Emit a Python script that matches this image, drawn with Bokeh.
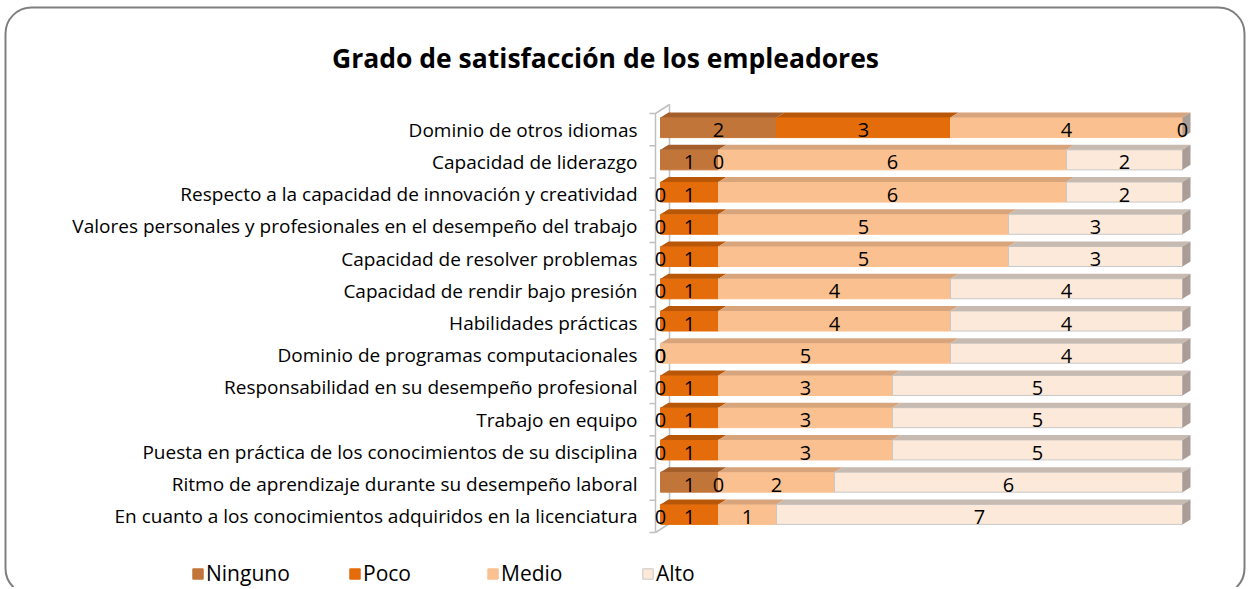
from bokeh.plotting import figure
from bokeh.models import Range1d, BoxAnnotation, Legend, LegendItem, ColumnDataSource
from bokeh.core.properties import value
from bokeh.embed import file_html
from bokeh.resources import INLINE

# ---------------- data ----------------
categories = [
    "Dominio de otros idiomas",
    "Capacidad de liderazgo",
    "Respecto a la capacidad de innovación y creatividad",
    "Valores personales y profesionales en el desempeño del trabajo",
    "Capacidad de resolver problemas",
    "Capacidad de rendir bajo presión",
    "Habilidades prácticas",
    "Dominio de programas computacionales",
    "Responsabilidad en su desempeño profesional",
    "Trabajo en equipo",
    "Puesta en práctica de los conocimientos de su disciplina",
    "Ritmo de aprendizaje durante su desempeño laboral",
    "En cuanto a los conocimientos adquiridos en la licenciatura",
]
ninguno = [2, 1, 0, 0, 0, 0, 0, 0, 0, 0, 0, 1, 0]
poco    = [3, 0, 1, 1, 1, 1, 1, 0, 1, 1, 1, 0, 1]
medio   = [4, 6, 6, 5, 5, 4, 4, 5, 3, 3, 3, 2, 1]
alto    = [0, 2, 2, 3, 3, 4, 4, 4, 5, 5, 5, 6, 7]
series_names = ["Ninguno", "Poco", "Medio", "Alto"]
title_text = "Grado de satisfacción de los empleadores"

# ---------------- style ----------------
face_colors = ["#C27539", "#E46C0A", "#FAC090", "#FDE9D9"]
top_colors = ["#A35E2C", "#B95708", "#D8A47B", "#C6BAB1"]
edge_colors = ["#C27539", "#E46C0A", "#FAC090", "#C8C8C8"]
side_color = "#A99D95"
wall_color = "#BFBFBF"
FONT = "Open Sans"

W, H = 1248, 587
XPX = 58.0                 # pixels per score unit
X0 = 660.0                 # pixel where score 0 lies
YPX = 419.0 / 13.0         # pixels per row
Y0 = 113.0                 # pixel of the top of the first row slot

def xd(px):
    return (px - X0) / XPX

def yd(py):
    return -0.5 + (py - Y0) / YPX

p = figure(width=W, height=H, output_backend="svg", toolbar_location=None,
           x_range=Range1d(xd(0), xd(W)), y_range=Range1d(yd(H), yd(0)),
           x_axis_type=None, y_axis_type=None,
           min_border=0, min_border_left=0, min_border_right=0,
           min_border_top=0, min_border_bottom=0)
p.outline_line_color = None
p.grid.visible = False
p.background_fill_color = "white"
p.border_fill_color = "white"

n = len(categories)
ys = list(range(n))

# 3D wall (axis line, tick marks, depth lines)
ax_x = xd(655)
wdx = 14 / XPX
wdy = 9 / YPX
p.segment(x0=[ax_x, ax_x, ax_x, ax_x + wdx], y0=[-0.5, -0.5, n - 0.5, -0.5 - wdy],
          x1=[ax_x, ax_x + wdx, ax_x + wdx, ax_x + wdx], y1=[n - 0.5, -0.5 - wdy, n - 0.5 - wdy, n - 0.5 - wdy],
          line_color=wall_color, line_width=1.5)
bounds = [i - 0.5 for i in range(n + 1)]
p.segment(x0=[ax_x - 6 / XPX] * len(bounds), y0=bounds, x1=[ax_x] * len(bounds), y1=bounds,
          line_color=wall_color, line_width=1.5)

# category labels
p.text(x=[xd(637)] * n, y=ys, text=categories, text_align="right", text_baseline="middle",
       text_font=value(FONT), text_font_size="19px", text_color="black")

# bars
h = 20 / YPX
shift = -2 / YPX
bdx = 8 / XPX
bdy = 5 / YPX
series = [ninguno, poco, medio, alto]
lefts = [0] * n
legend_renderers = []
label_x, label_y, label_t = [], [], []
for k, vals in enumerate(series):
    L = list(lefts)
    R = [l + v for l, v in zip(L, vals)]
    idx = [i for i in ys if vals[i] > 0]
    src = ColumnDataSource(dict(y=[ys[i] + shift for i in idx],
                                left=[L[i] for i in idx], right=[R[i] for i in idx]))
    r = p.hbar(y="y", left="left", right="right", height=h, source=src,
               fill_color=face_colors[k], line_color=edge_colors[k], line_width=1)
    legend_renderers.append(r)
    txs, tys = [], []
    for i in idx:
        top = ys[i] + shift - h / 2
        txs.append([L[i], L[i] + bdx, R[i] + bdx, R[i]])
        tys.append([top, top - bdy, top - bdy, top])
    p.patches(txs, tys, fill_color=top_colors[k], line_color=None)
    for i in ys:
        label_x.append((L[i] + R[i]) / 2)
        label_y.append(ys[i] + 0.02)
        label_t.append(str(vals[i]))
    lefts = R

# right side faces
sxs, sys_ = [], []
for i in ys:
    top = ys[i] + shift - h / 2
    bot = ys[i] + shift + h / 2
    e = lefts[i]
    sxs.append([e, e + bdx, e + bdx, e])
    sys_.append([top, top - bdy, bot - bdy, bot])
p.patches(sxs, sys_, fill_color=side_color, line_color=None)

# data labels
p.text(x=label_x, y=label_y, text=label_t, text_align="center", text_baseline="middle",
       text_font=value(FONT), text_font_size="20px", text_color="black")

# title
p.text(x=[xd(605)], y=[yd(57)], text=[title_text], text_align="center", text_baseline="middle",
       text_font=value(FONT), text_font_size="26.5px", text_font_style="bold", text_color="black")

# legends (one per item)
leg_x = [191, 348, 486, 641]
for k, name in enumerate(series_names):
    lg = Legend(items=[LegendItem(label=name, renderers=[legend_renderers[k]])],
                location=(leg_x[k], 0),
                orientation="horizontal", padding=0, margin=0, spacing=0,
                glyph_width=13, glyph_height=13, label_standoff=2,
                label_text_font=FONT, label_text_font_size="21px",
                label_text_color="black",
                border_line_color=None, background_fill_alpha=0)
    p.add_layout(lg, "center")

# rounded chart border
p.add_layout(BoxAnnotation(left=xd(5), right=xd(1244), top=yd(7), bottom=yd(594),
                           fill_alpha=0, line_color="#7F7F7F", line_alpha=1.0, line_width=2,
                           border_radius=26))

open("out.html", "w").write(file_html(p, INLINE))
